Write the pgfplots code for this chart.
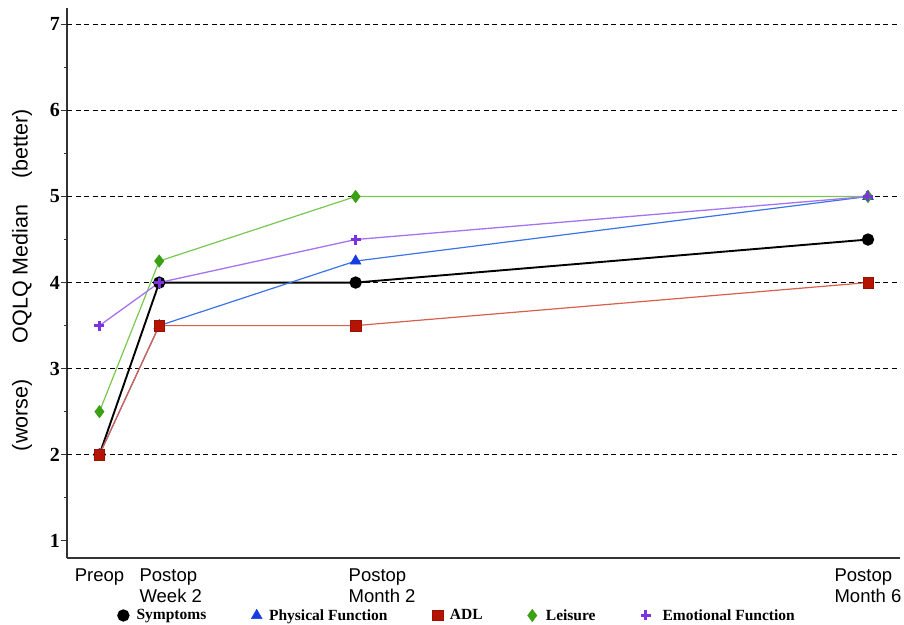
\documentclass[border=0pt]{standalone}
\usepackage{pgfplots}
\pgfplotsset{compat=1.18}
\usepackage{fontspec}
\setmainfont{Liberation Serif}
\newfontfamily\arial{Liberation Sans}
\definecolor{physline}{RGB}{60,115,230}
\definecolor{physmark}{RGB}{20,60,225}
\definecolor{adlline}{RGB}{215,95,75}
\definecolor{adlmark}{RGB}{180,20,0}
\definecolor{leisline}{RGB}{120,200,80}
\definecolor{leismark}{RGB}{60,160,20}
\definecolor{emoline}{RGB}{165,115,240}
\definecolor{emomark}{RGB}{125,50,225}
\begin{document}
\begin{tikzpicture}[x=1pt,y=1pt]
\path[use as bounding box] (0,0) rectangle (904,624);
\begin{axis}[
  at={(67pt,66pt)}, anchor=south west,
  scale only axis, width=833pt, height=550pt,
  xmin=-7.6, xmax=187.5, ymin=0.8, ymax=7.19,
  clip=false,
  axis x line*=bottom, axis y line*=left,
  axis line style={line width=1.1pt, black!80},
  ytick={1,...,7}, minor ytick={1.5,2.5,...,6.5},
  /pgf/number format/assume math mode=true,
  yticklabel style={font=\fontsize{20}{20}\selectfont\bfseries, inner sep=1pt},
  tick align=outside, major tick length=6pt, minor tick length=3pt,
  tick style={black!80, line width=1pt},
  xtick={0,16.7,66.2,180},
  xticklabels={Preop, {Postop\\Week 2}, {Postop\\Month 2}, {Postop\\Month 6}},
  x tick style={draw=none},
  xticklabel style={font=\arial\fontsize{18.5}{21}\selectfont, align=left, anchor=north, yshift=-1pt},
  ylabel={(worse)\hspace{36pt}OQLQ Median\hspace{26pt}(better)},
  ylabel style={font=\arial\fontsize{21.5}{21.5}\selectfont, at={(axis description cs:-0.054,0.505)}, anchor=center},
  legend columns=5,
  legend image code/.code={\draw[#1, only marks] plot coordinates {(0pt,0pt)};},
  legend style={at={(axis description cs:0.0612,-0.1045)}, anchor=west, draw=none, fill=none,
    font=\bfseries\fontsize{15.5}{15.5}\selectfont, inner sep=0pt,
    /tikz/every even column/.append style={column sep=43pt}},
]
\pgfplotsinvokeforeach{2,...,7}{
  \draw[black, line width=1.1pt, dash pattern=on 5pt off 3.5pt] (axis cs:-7.6,#1) -- (axis cs:187.5,#1);
}
\addplot[black, line width=1.9pt, mark=*, mark size=5.2pt, mark options={solid, fill=black}]
  coordinates {(0,2) (14,4) (60,4) (180,4.5)};
\addlegendentry{\hspace{6pt}Symptoms}
\addplot[physline, line width=1.2pt, mark=triangle*, mark size=6.2pt, mark options={solid, fill=physmark, draw=physmark, line width=0.5pt}]
  coordinates {(0,2) (14,3.5) (60,4.25) (180,5)};
\addlegendentry{\hspace{5pt}Physical Function}
\addplot[adlline, line width=1.2pt, mark=square*, mark size=5.2pt, mark options={solid, fill=adlmark, draw=adlmark!85!black, line width=0.5pt}]
  coordinates {(0,2) (14,3.5) (60,3.5) (180,4)};
\addlegendentry{\hspace{5pt}ADL}
\addplot[leisline, line width=1.2pt, mark=diamond*, mark size=6.2pt, mark options={solid, fill=leismark, draw=leismark, line width=0.5pt}]
  coordinates {(0,2.5) (14,4.25) (60,5) (180,5)};
\addlegendentry{\hspace{7pt}Leisure}
\addplot[emoline, line width=1.3pt, mark=+, mark size=5pt, mark options={solid, draw=emomark, line width=3pt}]
  coordinates {(0,3.5) (14,4) (60,4.5) (180,5)};
\addlegendentry{\hspace{10pt}Emotional Function}
\end{axis}
\end{tikzpicture}
\end{document}
